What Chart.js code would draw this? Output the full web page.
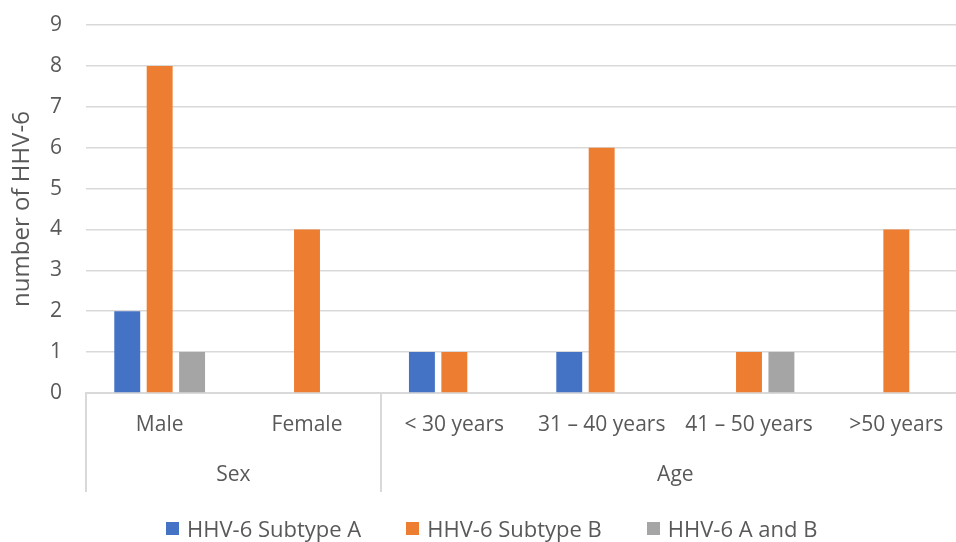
<!DOCTYPE html>
<html>
<head>
  <title>HHV-6 by sex and age</title>
  <script src="https://cdn.jsdelivr.net/npm/chart.js"></script>
  <style>
    body { margin: 0; padding: 0; background: #ffffff; overflow: hidden; }
    /* the original plot runs a little past the right edge of the picture */
    .wrap { position: relative; width: 956px; height: 542px; overflow: hidden; }
    .legend {
      position: absolute;
      left: 166px;
      top: 513px;
      display: flex;
      align-items: center;
      font-family: "Open Sans", "Noto Sans", sans-serif;
      font-size: 22px;
      color: #595959;
      white-space: nowrap;
    }
    .legend .item { display: flex; align-items: center; margin-right: 45px; }
    .legend .box { width: 13px; height: 13px; margin-right: 8px; }
  </style>
</head>
<body>
<div class="wrap">
  <canvas id="hhvChart" width="970" height="542"></canvas>
  <div class="legend" id="legend"></div>
</div>
<script>
  // Categories and groups
  const categories = ['Male', 'Female', '< 30 years', '31 – 40 years', '41 – 50 years', '>50 years'];
  const groupNames = ['Sex', 'Age'];
  const groupSizes = [2, 4];

  // Series values
  const seriesNames = ['HHV-6 Subtype A', 'HHV-6 Subtype B', 'HHV-6 A and B'];
  const subtypeA = [2, 0, 1, 1, 0, 0];
  const subtypeB = [8, 4, 1, 6, 1, 4];
  const subtypeAB = [1, 0, 0, 0, 1, 0];

  const yTicks = [0, 1, 2, 3, 4, 5, 6, 7, 8, 9];

  const colors = ['#4472C4', '#ED7D31', '#A5A5A5'];
  const textColor = '#595959';
  const lineColor = '#d9d9d9';
  const fontFamily = '"Open Sans", "Noto Sans", sans-serif';

  // group centres and boundaries, in category index units
  const groupCenters = [];
  const groupEdges = [-0.5];
  let start = 0;
  groupSizes.forEach(n => {
    groupCenters.push(start + (n - 1) / 2);
    start += n;
    groupEdges.push(start - 0.5);
  });

  // vertical separator lines of the grouped axis
  const groupLines = {
    id: 'groupLines',
    afterDraw(chart) {
      const ctx = chart.ctx;
      const x2 = chart.scales.x2;
      const top = chart.chartArea.bottom;
      const bottom = x2.bottom;
      ctx.save();
      ctx.strokeStyle = lineColor;
      ctx.lineWidth = 2;
      groupEdges.forEach(v => {
        const px = Math.round(x2.getPixelForValue(v));
        ctx.beginPath();
        ctx.moveTo(px, top);
        ctx.lineTo(px, bottom);
        ctx.stroke();
      });
      ctx.restore();
    }
  };

  const ctx = document.getElementById('hhvChart').getContext('2d');
  const chart = new Chart(ctx, {
    type: 'bar',
    data: {
      labels: categories,
      datasets: [
        { label: seriesNames[0], data: subtypeA, backgroundColor: colors[0] },
        { label: seriesNames[1], data: subtypeB, backgroundColor: colors[1] },
        { label: seriesNames[2], data: subtypeAB, backgroundColor: colors[2] }
      ]
    },
    options: {
      responsive: false,
      animation: false,
      categoryPercentage: 0.66,
      barPercentage: 0.8,
      layout: { padding: { top: 25, right: 0, left: 8, bottom: 50 } },
      plugins: {
        legend: { display: false },
        tooltip: { enabled: false }
      },
      scales: {
        y: {
          min: 0,
          max: 9,
          afterBuildTicks: s => { s.ticks = yTicks.map(v => ({ value: v })); },
          afterFit: s => {
            s.width = 78;
            s.paddingTop = 0;
            s.paddingBottom = 0;
          },
          grid: { color: lineColor, lineWidth: 1.5, drawTicks: false },
          border: { display: false },
          ticks: { color: textColor, padding: 24, font: { family: fontFamily, size: 21 } },
          title: {
            display: true,
            text: 'number of HHV-6',
            color: textColor,
            padding: 0,
            font: { family: fontFamily, size: 24 }
          }
        },
        x: {
          grid: { display: false, drawTicks: false },
          border: { color: lineColor, width: 2 },
          ticks: { color: textColor, padding: 19, maxRotation: 0, autoSkip: false, font: { family: fontFamily, size: 21 } },
          afterFit: s => {
            s.height = 57;
            s.paddingLeft = 0;
            s.paddingRight = 0;
          }
        },
        x2: {
          type: 'linear',
          position: 'bottom',
          offset: false,
          min: -0.5,
          max: categories.length - 0.5,
          afterBuildTicks: s => { s.ticks = groupCenters.map(v => ({ value: v })); },
          afterFit: s => {
            s.height = 42;
            s.paddingLeft = 0;
            s.paddingRight = 0;
          },
          grid: { display: false, drawTicks: false },
          border: { display: false },
          ticks: {
            color: textColor,
            padding: 12,
            maxRotation: 0,
            font: { family: fontFamily, size: 21 },
            callback: (v) => groupNames[groupCenters.indexOf(v)]
          }
        }
      }
    },
    plugins: [groupLines]
  });

  // legend as html, one entry per dataset
  const legendEl = document.getElementById('legend');
  chart.data.datasets.forEach(ds => {
    const item = document.createElement('span');
    item.className = 'item';
    const box = document.createElement('span');
    box.className = 'box';
    box.style.background = ds.backgroundColor;
    item.appendChild(box);
    item.appendChild(document.createTextNode(ds.label));
    legendEl.appendChild(item);
  });
</script>
</body>
</html>
